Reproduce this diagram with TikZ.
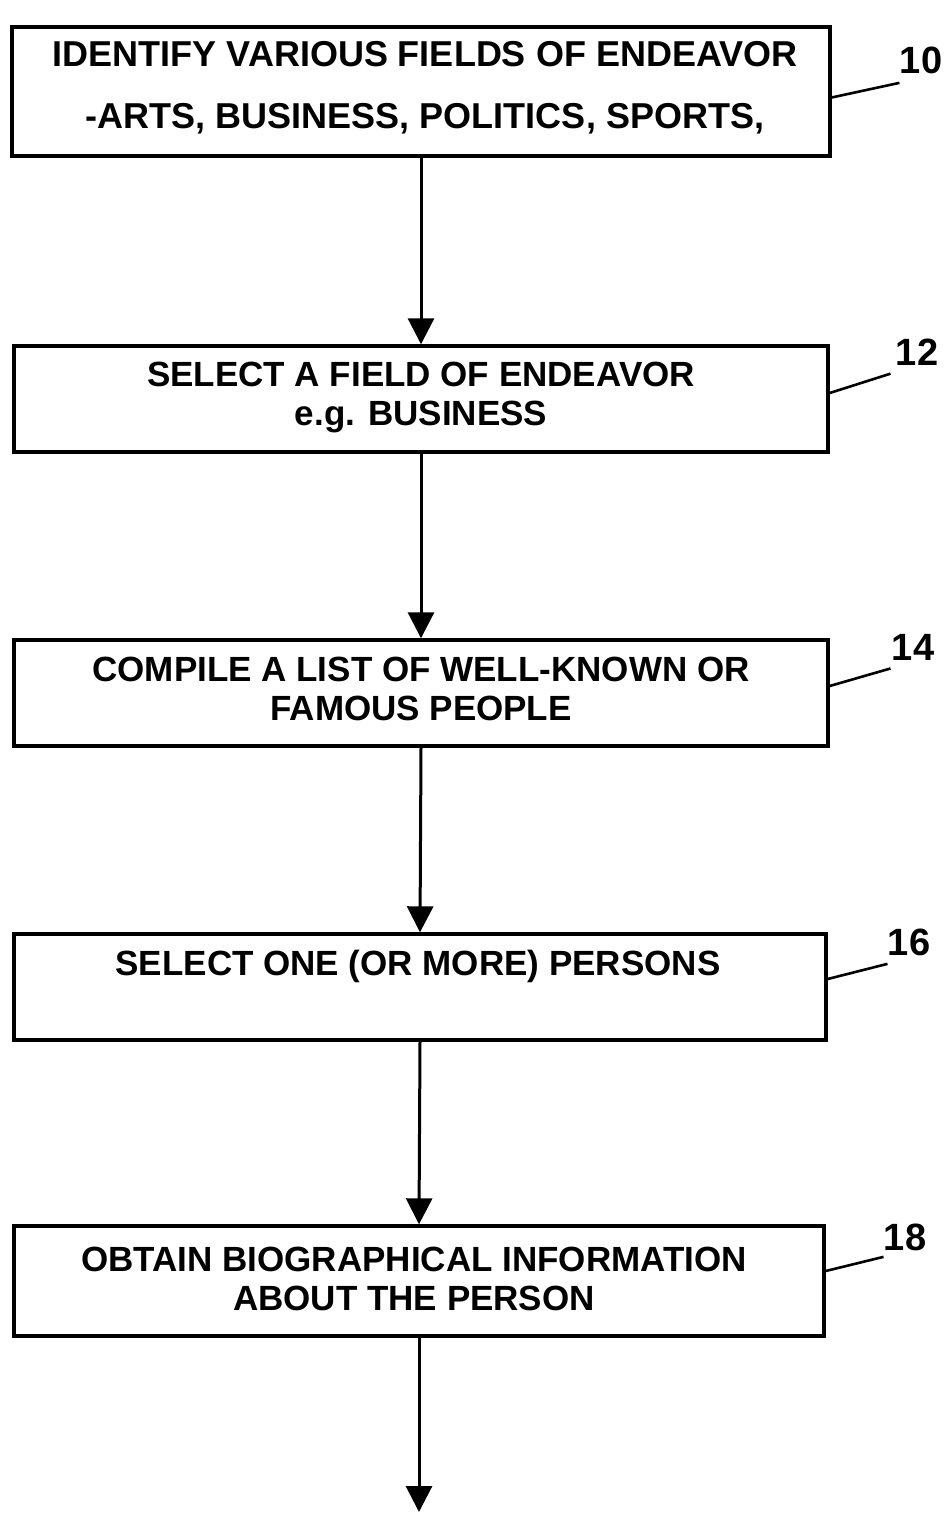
\documentclass[tikz,border=0pt]{standalone}
\usepackage{fontspec}
\setmainfont{Liberation Sans}
\usetikzlibrary{arrows.meta,calc}
\begin{document}
\begin{tikzpicture}[x=0.5pt,y=-0.5pt,
  stepbox/.style={draw,line width=1.7pt,rectangle,inner sep=0pt},
  txt/.style={font=\fontsize{17.5}{19.5}\selectfont\bfseries,align=center,inner sep=0pt},
  ref/.style={font=\fontsize{19}{21}\selectfont\bfseries,inner sep=0pt},
  flow/.style={line width=1.5pt,-{Triangle[length=13pt,width=13pt]}},
  leader/.style={line width=1.3pt}]
\useasboundingbox (0,0) rectangle (945,1514);

% process boxes
\node[stepbox,minimum width=409pt,minimum height=64.5pt] (b10) at (421,91.5) {};
\node[stepbox,minimum width=407pt,minimum height=53pt] (b12) at (421,399) {};
\node[stepbox,minimum width=407pt,minimum height=53pt] (b14) at (421,693) {};
\node[stepbox,minimum width=406pt,minimum height=53pt] (b16) at (420,987) {};
\node[stepbox,minimum width=405pt,minimum height=55pt] (b18) at (419,1281) {};

% box texts
\node[txt,font=\fontsize{18}{31}\selectfont\bfseries] (t10) at (425,88)
  {IDENTIFY VARIOUS FIELDS OF ENDEAVOR\\-ARTS, BUSINESS, POLITICS, SPORTS,};
\node[txt] (t12) at (421,397) {SELECT A FIELD OF ENDEAVOR\\e.g. BUSINESS};
\node[txt] (t14) at (421,689) {COMPILE A LIST OF WELL-KNOWN OR\\FAMOUS PEOPLE};
\node[txt] (t16) at (418,966) {SELECT ONE (OR MORE) PERSONS};
\node[txt] (t18) at (414,1279) {OBTAIN BIOGRAPHICAL INFORMATION\\ABOUT THE PERSON};

% reference numerals
\node[ref] (l10) at (921,60) {10};
\node[ref] (l12) at (917,352) {12};
\node[ref] (l14) at (913,647) {14};
\node[ref] (l16) at (909,942) {16};
\node[ref] (l18) at (905,1237) {18};

% leader lines
\draw[leader] ($(b10.east)+(0,6)$) -- ([shift={(0,9)}]l10.south west);
\draw[leader] ($(b12.east)+(0,-6)$) -- ([shift={(-5,8)}]l12.south west);
\draw[leader] ($(b14.east)+(0,-7)$) -- ([shift={(-1,8)}]l14.south west);
\draw[leader] ($(b16.east)+(0,-8)$) -- ([shift={(0,8)}]l16.south west);
\draw[leader] ($(b18.east)+(0,-10)$) -- ([shift={(0,6)}]l18.south west);

% flow arrows
\coordinate (end) at (410,1512);
\draw[flow] (b10.south) -- (b12.north);
\draw[flow] (b12.south) -- (b14.north);
\draw[flow] (b14.south) -- (b16.north);
\draw[flow] (b16.south) -- (b18.north);
\draw[flow] (b18.south) -- (b18.south |- end);
\end{tikzpicture}
\end{document}
